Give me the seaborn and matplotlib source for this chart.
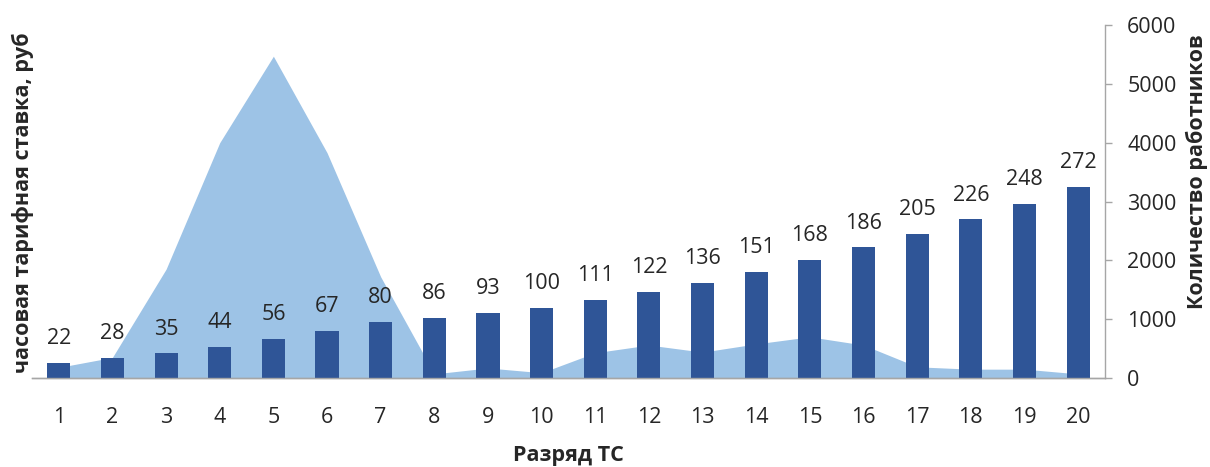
import matplotlib
matplotlib.use("Agg")
import matplotlib.pyplot as plt
import seaborn as sns
import pandas as pd

# Tariff grades, hourly rate (rub) and headcount per grade
grades = list(range(1, 21))
hourly_rate = [22, 28, 35, 44, 56, 67, 80, 86, 93, 100, 111, 122, 136, 151, 168, 186, 205, 226, 248, 272]
headcount = [180, 350, 1850, 4000, 5470, 3830, 1720, 70, 170, 90, 430, 560, 440, 580, 700, 560, 190, 150, 150, 70]

grade_labels = [str(g) for g in grades]
rate_df = pd.DataFrame({"grade": grade_labels, "rate": hourly_rate})

sns.set_theme(style="white")
plt.rcParams["font.family"] = ["Open Sans", "DejaVu Sans"]

bar_color = "#2F5597"
area_color = "#9DC3E6"
axis_gray = "#A6A6A6"
text_color = "#262626"
num_size = 15.5
title_size = 15.5

fig = plt.figure(figsize=(12.1, 4.67), dpi=100)
ax = fig.add_axes([0.0264, 0.1906, 0.8868, 0.7558])

# Hourly rate bars on a hidden left scale
sns.barplot(data=rate_df, x="grade", y="rate", color=bar_color, saturation=1,
            width=0.43, ax=ax, linewidth=0, edgecolor="none")
ax.set_ylim(0, 503)
ax.set_xlim(-0.5, len(grades) - 0.5)
ax.set_yticks([])
ax.set_ylabel("")
for container in ax.containers:
    ax.bar_label(container, labels=[str(v) for v in hourly_rate], padding=10,
                 fontsize=num_size, color=text_color)
ax.set_xlabel("Разряд ТС", fontsize=title_size, fontweight="bold", labelpad=12, color=text_color)
ax.tick_params(axis="x", length=0, pad=21, labelsize=num_size, labelcolor=text_color)

# Headcount area on the right-hand scale, drawn beneath the bars
ax2 = ax.twinx()
positions = list(range(len(grades)))
ax2.fill_between(positions, headcount, 0, color=area_color, linewidth=0)
ax2.set_ylim(0, 6000)
ax2.set_xlim(-0.5, len(grades) - 0.5)
ax2.set_yticks(range(0, 6001, 1000))
ax2.tick_params(axis="y", right=True, length=5, width=1, color=axis_gray,
                pad=11, labelsize=num_size, labelcolor=text_color)
ax2.set_ylabel("Количество работников", fontsize=title_size, fontweight="bold", color=text_color)
ax2.yaxis.set_label_coords(1.075, 0.585)

ax.set_zorder(ax2.get_zorder() + 1)
ax.patch.set_visible(False)

for a in (ax, ax2):
    for side in ("top", "left", "right"):
        a.spines[side].set_visible(False)
    a.spines["bottom"].set_color(axis_gray)
    a.spines["bottom"].set_linewidth(1)
ax2.spines["right"].set_visible(True)
ax2.spines["right"].set_color(axis_gray)
ax2.spines["right"].set_linewidth(1)

fig.text(0.019, 0.565, "часовая тарифная ставка, руб", rotation=90, fontsize=title_size,
         fontweight="bold", ha="center", va="center", color=text_color)

fig.savefig("out.png", dpi=100, facecolor="white")
